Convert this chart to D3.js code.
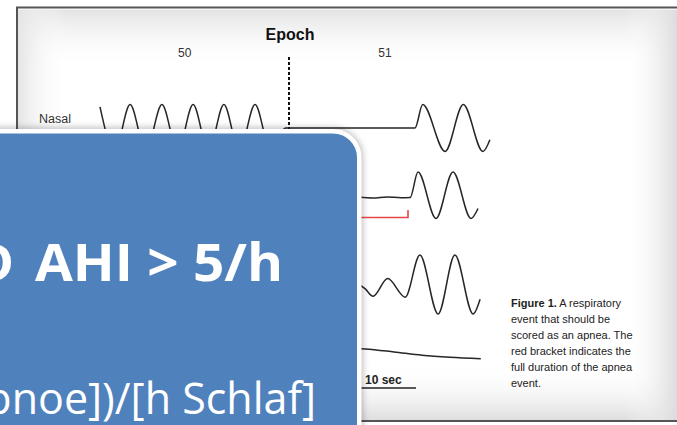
<!DOCTYPE html>
<html><head><meta charset="utf-8">
<script src="https://cdn.jsdelivr.net/npm/d3@7"></script>
<style>html,body{margin:0;padding:0;background:#fff;overflow:hidden}svg{display:block}</style>
</head><body>
<svg id="c" width="677" height="425"></svg>
<script>
// ---------- data (time in seconds, signal in normalized units) ----------
const epochLabels = ["50", "51"];
const epochLabelTimes = [15.1, 43.7];
const epochBoundary = 30;
const channelNames = ["Nasal"];

const nasalT = [3.0, 5.1, 7.3, 9.55, 11.85, 14.1, 16.3, 18.5, 20.7, 22.9, 25.15, 27.4, 29.5, 38, 48.0, 49.1, 52.3, 54.9, 57.7, 58.7];
const nasalV = [0.9, -1, 1, -1, 1, -1, 1, -1, 1, -1, 1, -1, 0, 0, 0, 1, -1, 1, -1, -0.5];

const thoraxT = [40.0, 42.0, 44.0, 46.0, 47.3, 48.43, 51.0, 53.43, 56.0, 57.0];
const thoraxV = [-0.08, -0.12, -0.07, -0.11, -0.1, 1, -1, 1, -1, -0.57];

const abdomenT = [40.0, 40.9, 42.0, 44.1, 46.6, 48.7, 51.3, 53.7, 56.3, 57.3];
const abdomenV = [0.0, -0.15, -0.4, 0.2, -0.43, 1, -1, 1, -1, -0.5];

const spo2T = [38.0, 40.9, 45.0, 49.0, 53.0, 57.4];
const spo2V = [96.0, 95.85, 95.35, 94.8, 94.45, 94.2];

const apneaStart = 30, apneaEnd = 47.0;
const scaleBarSeconds = 10, scaleBarEnd = 48.14;

const captionLines = [
  [["Figure 1.", true], [" A respiratory", false]],
  [["event that should be", false]],
  [["scored as an apnea. The", false]],
  [["red bracket indicates the", false]],
  [["full duration of the apnea", false]],
  [["event.", false]]
];

const boxLine1a = "D";
const boxLine1b = "AHI > 5/h";
const boxLine2 = "AHI = ([Apnoe]+[Hypopnoe])/[h Schlaf]";

// ---------- drawing ----------
const svg = d3.select("#c");
const defs = svg.append("defs");
const W = 677, H = 425;

function lg(id, x1, y1, x2, y2, stops) {
  const g = defs.append("linearGradient").attr("id", id)
    .attr("x1", x1).attr("y1", y1).attr("x2", x2).attr("y2", y2);
  stops.forEach(s => g.append("stop").attr("offset", s[0]).attr("stop-color", s[1]).attr("stop-opacity", s[2]));
}
lg("gTop", 0, 0, 0, 1, [[0, "#e2e2e2", 1], [1, "#ffffff", 0]]);
lg("gBot", 0, 0, 0, 1, [[0, "#ffffff", 0], [1, "#dedede", 1]]);
lg("gLeft", 0, 0, 1, 0, [[0, "#e4e4e4", 1], [1, "#ffffff", 0]]);
lg("gRight", 0, 0, 1, 0, [[0, "#ffffff", 0], [1, "#dcdcdc", 1]]);

const sh = defs.append("filter").attr("id", "shadow").attr("x", "-10%").attr("y", "-10%").attr("width", "130%").attr("height", "130%");
sh.append("feGaussianBlur").attr("stdDeviation", 3);

// frame
svg.append("rect").attr("x", 17).attr("y", 8).attr("width", W - 17).attr("height", 413).attr("fill", "#fff");
svg.append("rect").attr("x", 17).attr("y", 9).attr("width", W - 17).attr("height", 60).attr("fill", "url(#gTop)");
svg.append("rect").attr("x", 17).attr("y", 365).attr("width", W - 17).attr("height", 55).attr("fill", "url(#gBot)");
svg.append("rect").attr("x", 17).attr("y", 9).attr("width", 50).attr("height", 411).attr("fill", "url(#gLeft)");
svg.append("rect").attr("x", 625).attr("y", 9).attr("width", 52).attr("height", 411).attr("fill", "url(#gRight)");
svg.append("line").attr("x1", 16).attr("x2", W).attr("y1", 7.5).attr("y2", 7.5).attr("stroke", "#555").attr("stroke-width", 2);
svg.append("line").attr("x1", 16).attr("x2", W).attr("y1", 9.5).attr("y2", 9.5).attr("stroke", "#f4f4f4").attr("stroke-width", 1);
svg.append("line").attr("x1", 17).attr("x2", 17).attr("y1", 7).attr("y2", 421).attr("stroke", "#555").attr("stroke-width", 2);
svg.append("line").attr("x1", 16).attr("x2", W).attr("y1", 421).attr("y2", 421).attr("stroke", "#555").attr("stroke-width", 2);

// scales
const x = d3.scaleLinear().domain([0, 60]).range([79, 499]);
const yNasal = d3.scaleLinear().domain([-1, 1]).range([151.5, 104.5]);
const yThorax = d3.scaleLinear().domain([-1, 1]).range([218.5, 172]);
const yAbd = d3.scaleLinear().domain([-1, 1]).range([314, 255]);
const ySpo2 = d3.scaleLinear().domain([94, 96]).range([360, 348]);

const font = "'Liberation Sans', Arial, Helvetica, sans-serif";

svg.append("text").attr("x", 290).attr("y", 40).attr("text-anchor", "middle")
  .attr("font-family", font).attr("font-weight", "bold").attr("font-size", 16).attr("fill", "#111").text("Epoch");
svg.selectAll("text.ep").data(epochLabels).join("text").attr("class", "ep")
  .attr("x", (d, i) => x(epochLabelTimes[i])).attr("y", 57).attr("text-anchor", "middle")
  .attr("font-family", font).attr("font-size", 12).attr("fill", "#333").text(d => d);
svg.append("line").attr("x1", x(epochBoundary)).attr("x2", x(epochBoundary)).attr("y1", 57).attr("y2", 360)
  .attr("stroke", "#111").attr("stroke-width", 2).attr("stroke-dasharray", "3,2");
svg.selectAll("text.ch").data(channelNames).join("text").attr("class", "ch")
  .attr("x", 39).attr("y", 123).attr("font-family", font).attr("font-size", 12.5).attr("fill", "#333").text(d => d);

function trace(ts, vs, ys) {
  const pts = ts.map((t, i) => [x(t), ys(vs[i])]);
  svg.append("path").attr("d", d3.line().curve(d3.curveMonotoneX)(pts))
    .attr("fill", "none").attr("stroke", "#262626").attr("stroke-width", 1.5).attr("stroke-linejoin", "round");
}
trace(nasalT, nasalV, yNasal);
trace(thoraxT, thoraxV, yThorax);
trace(abdomenT, abdomenV, yAbd);
trace(spo2T, spo2V, ySpo2);

// red bracket
svg.append("path").attr("d", d3.line()([[x(apneaStart), 217.5], [x(apneaEnd), 217.5], [x(apneaEnd), 210]]))
  .attr("fill", "none").attr("stroke", "#e8454a").attr("stroke-width", 1.6);

// scale bar
svg.append("line").attr("x1", x(scaleBarEnd - scaleBarSeconds)).attr("x2", x(scaleBarEnd)).attr("y1", 388).attr("y2", 388)
  .attr("stroke", "#222").attr("stroke-width", 1.6);
svg.append("text").attr("x", 365).attr("y", 384).attr("font-family", font).attr("font-weight", "bold")
  .attr("font-size", 12).attr("fill", "#222").text(scaleBarSeconds + " sec");

// caption
const cap = svg.append("g").attr("font-family", font).attr("font-size", 11).attr("fill", "#222");
captionLines.forEach((ln, i) => {
  const t = cap.append("text").attr("x", 511).attr("y", 307 + i * 16);
  ln.forEach(s => t.append("tspan").attr("font-weight", s[1] ? "bold" : "normal").text(s[0]));
});

// blue overlay box
const bx = 357, by = 133.5, r = 24;
const boxPath = `M-20,${by} H${bx - r} A${r},${r} 0 0 1 ${bx},${by + r} V${H + 20} H-20 Z`;
svg.append("path").attr("d", boxPath).attr("fill", "none").attr("stroke", "#000").attr("stroke-opacity", 0.25)
  .attr("stroke-width", 12).attr("filter", "url(#shadow)");
svg.append("path").attr("d", boxPath).attr("fill", "#fff").attr("stroke", "#fff").attr("stroke-width", 9);
svg.append("path").attr("d", boxPath).attr("fill", "#4f81bd");

const bfont = "'Open Sans', 'Noto Sans', sans-serif";
svg.append("text").attr("x", 14).attr("y", 281).attr("text-anchor", "end")
  .attr("font-family", bfont).attr("font-weight", "bold").attr("font-size", 52).attr("fill", "#fff").text(boxLine1a);
svg.append("text").attr("x", 35).attr("y", 281).attr("textLength", 248).attr("lengthAdjust", "spacingAndGlyphs")
  .attr("font-family", bfont).attr("font-weight", "bold").attr("font-size", 52).attr("fill", "#fff").text(boxLine1b);
svg.append("text").attr("x", 316).attr("y", 414).attr("text-anchor", "end")
  .attr("font-family", bfont).attr("font-size", 43).attr("fill", "#fff").text(boxLine2);
</script>
</body></html>
